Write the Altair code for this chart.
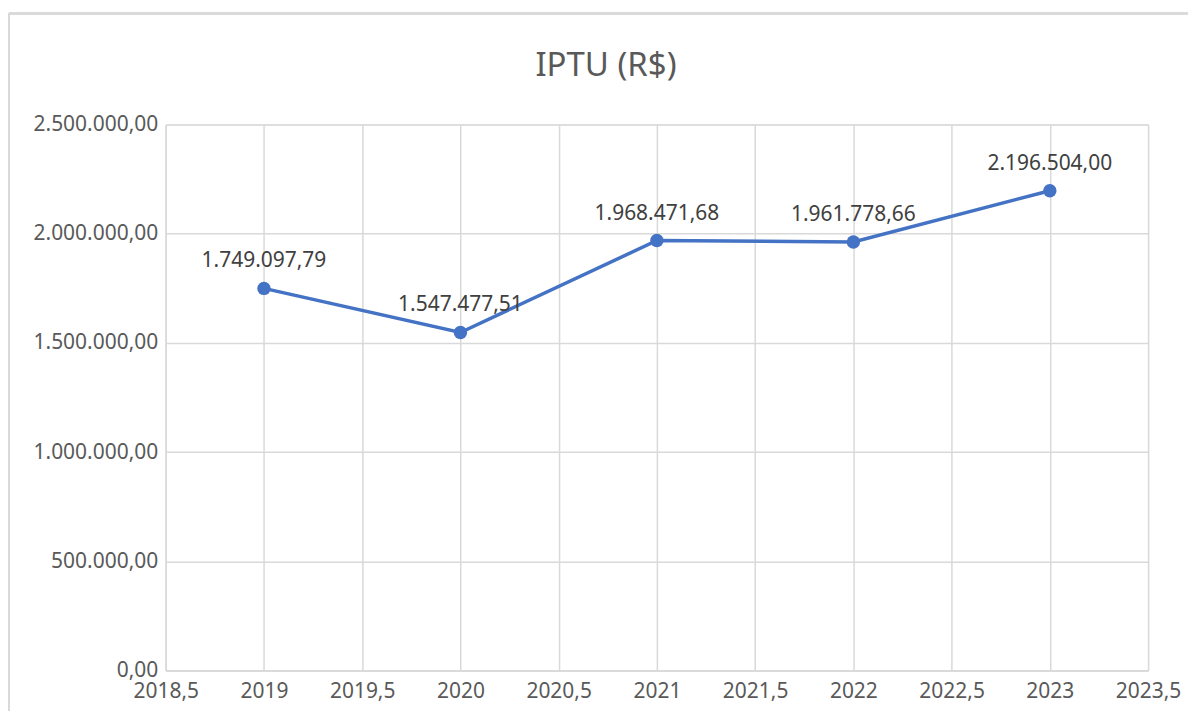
import altair as alt
import pandas as pd

years = [2019, 2020, 2021, 2022, 2023]
values = [1749097.79, 1547477.51, 1968471.68, 1961778.66, 2196504.00]
y_ticks = [0, 500000, 1000000, 1500000, 2000000, 2500000]
x_ticks = [2018.5, 2019, 2019.5, 2020, 2020.5, 2021, 2021.5, 2022, 2022.5, 2023, 2023.5]

df = pd.DataFrame({"ano": years, "valor": values})

FONT = "Noto Sans"
GRID = "#d9d9d9"
LINE = "#4472C4"

br_fmt = ("replace(replace(replace(format({v}, ',.2f'), regexp(',', 'g'), '_'), "
          "regexp('[.]', 'g'), ','), regexp('_', 'g'), '.')")

x_enc = alt.X(
    "ano:Q",
    scale=alt.Scale(domain=[2018.5, 2023.5], nice=False, zero=False),
    axis=alt.Axis(
        values=x_ticks, title=None, ticks=False, domainColor=GRID, domainWidth=1.5,
        gridColor=GRID, gridWidth=1.5, labelFont=FONT, labelFontSize=21,
        labelColor="#595959", labelPadding=10, labelFlush=False, labelOverlap=False,
        labelExpr="replace(toString(datum.value), '.', ',')",
    ),
)
y_enc = alt.Y(
    "valor:Q",
    scale=alt.Scale(domain=[0, 2500000], nice=False),
    axis=alt.Axis(
        values=y_ticks, title=None, ticks=False, domainColor=GRID, domainWidth=1.5,
        gridColor=GRID, gridWidth=1.5, labelFont=FONT, labelFontSize=21,
        labelColor="#595959", labelPadding=8, labelOverlap=False,
        labelExpr=br_fmt.format(v="datum.value"),
    ),
)

base = alt.Chart(df)

line = base.mark_line(color=LINE, strokeWidth=3.5).encode(x=x_enc, y=y_enc)
pts = base.mark_point(filled=True, color=LINE, size=180, opacity=1).encode(x="ano:Q", y="valor:Q")
labels = base.transform_calculate(
    rotulo=br_fmt.format(v="datum.valor")
).mark_text(
    font=FONT, fontSize=21, color="#404040", dy=-27, baseline="middle", align="center"
).encode(x="ano:Q", y="valor:Q", text="rotulo:N")

border_top = base.mark_rule(color=GRID, strokeWidth=2, clip=False).encode(
    x=alt.value(-157), x2=alt.value(1045), y=alt.value(-111)
)
border_left = base.mark_rule(color=GRID, strokeWidth=2, clip=False).encode(
    x=alt.value(-157), y=alt.value(-111), y2=alt.value(620)
)

chart = alt.layer(border_top, border_left, line, pts, labels).properties(
    width=984,
    height=547,
    padding={"left": 158, "top": 116, "right": 40, "bottom": 40},
    autosize=alt.AutoSizeParams(type="none"),
    title=alt.TitleParams(
        "IPTU (R$)", font=FONT, fontSize=33, fontWeight="normal", color="#595959",
        anchor="middle", dx=-51, offset=0, dy=97, baseline="alphabetic",
    ),
).configure_view(stroke=None).configure(background="white")

chart.save("out.html", embed_options={"renderer": "svg", "actions": False})
